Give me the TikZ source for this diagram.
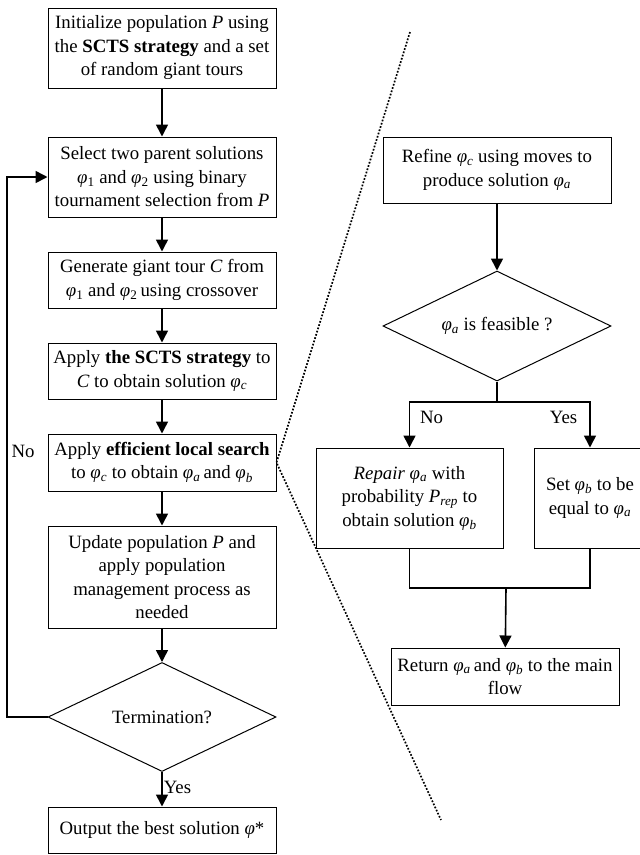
\documentclass[tikz,border=0pt]{standalone}
\usepackage{fontspec}
\setmainfont{Liberation Serif}
\usetikzlibrary{shapes.geometric,arrows.meta}
\newcommand\ph[1]{\textit{φ}\textsubscript{\textit{#1}}}
\newcommand\pn[1]{\textit{φ}\textsubscript{#1}}
\begin{document}
\begin{tikzpicture}[x=1pt,y=-1pt,
  font=\fontsize{18.8}{23.5}\selectfont,
  box/.style={draw, line width=1pt, align=center, inner sep=0pt},
  dia/.style={draw, line width=1pt, diamond, inner sep=0pt, align=center},
  arr/.style={line width=1.6pt, -{Triangle[width=12pt,length=12pt]}},
  conn/.style={line width=1.6pt},
  dot/.style={line width=1.7pt, dash pattern=on 1.7pt off 1.7pt}]
\useasboundingbox (0,0) rectangle (640,855);
% left column
\node[box, minimum width=228, minimum height=80] (b1) at (162,48)
  {Initialize population \textit{P} using\\the \textbf{SCTS strategy} and a set\\of random giant tours};
\node[box, minimum width=228, minimum height=80] (b2) at (162,177)
  {Select two parent solutions\\\pn{1} and \pn{2} using binary\\tournament selection from \textit{P}};
\node[box, minimum width=228, minimum height=56] (b3) at (162,280)
  {Generate giant tour \textit{C} from\\\pn{1} and \pn{2}\,using crossover};
\node[box, minimum width=228, minimum height=56] (b4) at (162,371)
  {Apply \textbf{the SCTS strategy} to\\\textit{C} to obtain solution \ph{c}};
\node[box, minimum width=228, minimum height=57] (b5) at (162,462.5)
  {Apply \textbf{efficient local search}\\to \ph{c} to obtain \ph{a}\,and \ph{b}};
\node[box, minimum width=228, minimum height=102] (b6) at (162,577)
  {Update population \textit{P} and\\apply population\\management process as\\needed};
\node[dia, minimum width=228, minimum height=109, aspect=2.09] (d1) at (162,717) {Termination?};
\node[box, minimum width=228, minimum height=46] (b7) at (162,830)
  {Output the best solution \textit{φ}*};
\draw[arr] (b1) -- (b2);
\draw[arr] (b2) -- (b3);
\draw[arr] (b3) -- (b4);
\draw[arr] (b4) -- (b5);
\draw[arr] (b5) -- (b6);
\draw[arr] (b6) -- (d1);
\draw[arr] (d1) -- node[right, inner sep=1pt, pos=0.45] {Yes} (b7);
\coordinate (lp) at (7,717);
\draw[arr] (d1.west) -- (lp) |- (b2.west);
\node (no1) at (23,451) {No};
% right column
\node[box, minimum width=228, minimum height=66] (r1) at (497,170)
  {Refine \ph{c} using moves to\\produce solution \ph{a}};
\node[dia, minimum width=228, minimum height=110, aspect=2.07] (d2) at (497,326) {\ph{a} is feasible ?};
\node[box, minimum width=187, minimum height=100] (r2) at (409.5,498)
  {\textit{Repair} \ph{a} with\\probability \textit{P}\textsubscript{\textit{rep}} to\\obtain solution \ph{b}};
\node[box, minimum width=112, minimum height=100] (r3) at (590,498)
  {Set \ph{b} to be\\equal to \ph{a}};
\node[box, minimum width=228, minimum height=57] (r4) at (505,676.5)
  {Return \ph{a}\,and \ph{b} to the main\\flow};
\draw[arr] (r1) -- (d2);
\coordinate (sp) at (497,402);
\coordinate (jn) at (506,588);
\draw[conn] (d2.south) -- (sp);
\draw[arr] (sp) -| (r2.north);
\draw[arr] (sp) -| (r3.north);
\draw[conn] (r2.south) |- (jn) -| (r3.south);
\draw[arr] (jn) -- (r4);
\node (no2) at (431.5,417) {No};
\node (yes2) at (563.5,417) {Yes};
% dotted zoom lines
\coordinate (dt) at (410,32);
\coordinate (db) at (441,820);
\draw[dot] (dt) -- (b5.east) -- (db);
\end{tikzpicture}
\end{document}
